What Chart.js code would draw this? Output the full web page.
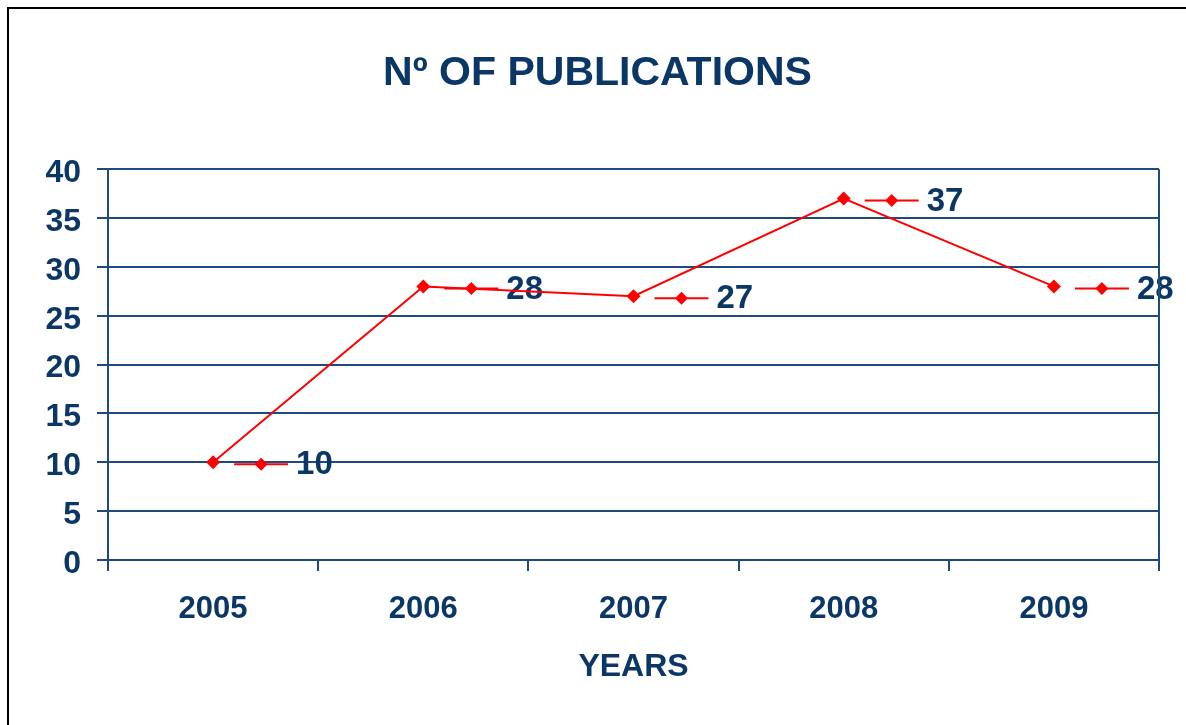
<!DOCTYPE html>
<html>
<head>
<meta charset="utf-8">
<title>Nº of publications</title>
<script src="https://cdn.jsdelivr.net/npm/chart.js@4.4.0/dist/chart.umd.min.js"></script>
<style>
  html, body { margin: 0; padding: 0; background: #fff; overflow: hidden; }
  #wrap { position: relative; width: 1186px; height: 725px; }
  #frame { position: absolute; left: 7px; top: 7px; width: 1400px; height: 1000px; border: 2px solid #000; pointer-events: none; }
  canvas { position: absolute; left: 0; top: 0; }
</style>
</head>
<body>
<div id="wrap">
  <canvas id="pubs" width="1186" height="725"></canvas>
  <div id="frame"></div>
</div>
<script>
// data
const years = ['2005', '2006', '2007', '2008', '2009'];
const publications = [10, 28, 27, 37, 28];
const yMin = 0, yMax = 40, yStep = 5;

const NAVY = '#0B3766';
const GRID = '#1F4A7C';
const RED = '#FF0000';
const FONT = '"Liberation Sans", Arial, sans-serif';

// data labels drawn the Excel way: legend key (line + diamond) then the value
const labelKeys = {
  id: 'labelKeys',
  beforeDatasetsDraw(chart) {
    const ctx = chart.ctx;
    const meta = chart.getDatasetMeta(0);
    ctx.save();
    meta.data.forEach((pt, i) => {
      const x = pt.x, y = pt.y + 2;
      ctx.strokeStyle = RED;
      ctx.lineWidth = 2;
      ctx.beginPath();
      ctx.moveTo(x + 21, y);
      ctx.lineTo(x + 75, y);
      ctx.stroke();
      ctx.fillStyle = RED;
      ctx.beginPath();
      ctx.moveTo(x + 48, y - 6.5);
      ctx.lineTo(x + 54.5, y);
      ctx.lineTo(x + 48, y + 6.5);
      ctx.lineTo(x + 41.5, y);
      ctx.closePath();
      ctx.fill();
      ctx.fillStyle = NAVY;
      ctx.font = 'bold 33px ' + FONT;
      ctx.textAlign = 'left';
      ctx.textBaseline = 'middle';
      ctx.fillText(String(publications[i]), x + 83, y + 1);
    });
    // right edge of the plot area
    const a = chart.chartArea;
    ctx.strokeStyle = GRID;
    ctx.lineWidth = 2;
    ctx.beginPath();
    ctx.moveTo(a.right, a.top);
    ctx.lineTo(a.right, a.bottom);
    ctx.stroke();
    ctx.restore();
  }
};

new Chart(document.getElementById('pubs'), {
  type: 'line',
  data: {
    labels: years,
    datasets: [{
      label: 'Nº of publications',
      data: publications,
      borderColor: RED,
      backgroundColor: RED,
      borderWidth: 2,
      pointStyle: 'rectRot',
      pointRadius: 7,
      pointBorderWidth: 0,
      fill: false,
      tension: 0
    }]
  },
  options: {
    responsive: false,
    animation: false,
    devicePixelRatio: 1,
    layout: { padding: { left: 9, right: 0, top: 0, bottom: 0 } },
    plugins: {
      legend: { display: false },
      tooltip: { enabled: false },
      title: {
        display: true,
        text: 'Nº OF PUBLICATIONS',
        color: NAVY,
        font: { family: FONT, size: 41, weight: 'bold' },
        padding: { top: 49, bottom: 71 }
      }
    },
    scales: {
      x: {
        offset: true,
        grid: { offset: true, drawOnChartArea: false, color: GRID, lineWidth: 2, tickLength: 11 },
        border: { color: GRID, width: 2 },
        ticks: { color: NAVY, font: { family: FONT, size: 31, weight: 'bold' }, padding: 20, maxRotation: 0 },
        title: {
          display: true,
          text: 'YEARS',
          color: NAVY,
          font: { family: FONT, size: 32, weight: 'bold' },
          padding: { top: 0, bottom: 39 }
        },
        afterFit(s) { s.height = 165; }
      },
      y: {
        min: yMin,
        max: yMax,
        ticks: { stepSize: yStep, color: NAVY, font: { family: FONT, size: 32, weight: 'bold' }, padding: 16, labelOffset: 4 },
        grid: { color: GRID, lineWidth: 2, tickLength: 11, tickColor: GRID },
        border: { color: GRID, width: 2 },
        afterFit(s) { s.width = 99; }
      },
      yRight: {
        position: 'right',
        display: true,
        ticks: { display: false },
        grid: { display: false },
        border: { display: false },
        afterFit(s) { s.width = 27; }
      }
    }
  },
  plugins: [labelKeys]
});
</script>
</body>
</html>
